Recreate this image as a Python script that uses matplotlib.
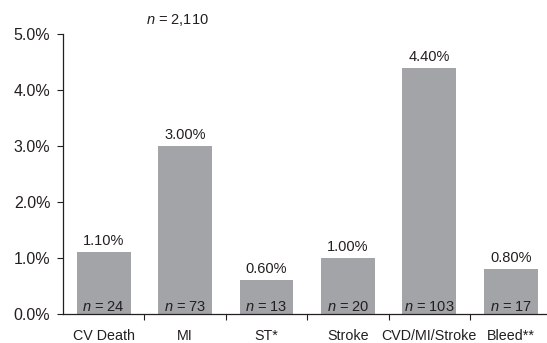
import matplotlib
matplotlib.use("Agg")
import matplotlib.pyplot as plt
from matplotlib.ticker import FixedLocator, FuncFormatter

categories = ["CV Death", "MI", "ST*", "Stroke", "CVD/MI/Stroke", "Bleed**"]
rates = [1.10, 3.00, 0.60, 1.00, 4.40, 0.80]
counts = [24, 73, 13, 20, 103, 17]
total_n = "2,110"

plt.rcParams["font.family"] = ["Liberation Sans", "DejaVu Sans"]
plt.rcParams["mathtext.fontset"] = "custom"
plt.rcParams["mathtext.it"] = "Liberation Sans:italic"
plt.rcParams["mathtext.rm"] = "Liberation Sans"

ink = "#231f20"
bar_color = "#a2a4a7"

fig = plt.figure(figsize=(5.47, 3.43), dpi=100)
ax = fig.add_axes([63 / 547, 29 / 343, (547 - 63) / 547, 280 / 343])

x = range(len(categories))
ax.bar(x, rates, width=0.66, color=bar_color, zorder=2)

ax.set_xlim(-0.5, -0.5 + (547 - 63) / 81.4)
ax.set_ylim(0, 5)

for i, (r, c) in enumerate(zip(rates, counts)):
    ax.annotate(f"{r:.2f}%", (i, r), xytext=(0, 5), textcoords="offset points",
                ha="center", va="baseline", fontsize=10.5, color=ink)
    ax.annotate(f"$n$ = {c}", (i, 0), xytext=(0, 2.5), textcoords="offset points",
                ha="center", va="baseline", fontsize=10.5, color=ink)

ax.text(0.91, 5.18, f"$n$ = {total_n}", ha="center", va="baseline",
        fontsize=10.5, color=ink, clip_on=False)

ax.set_yticks([0, 1, 2, 3, 4, 5])
ax.yaxis.set_major_formatter(FuncFormatter(lambda v, p: f"{v:.1f}%"))

# category labels sit between the tick marks at the category boundaries
ax.xaxis.set_major_locator(FixedLocator([0.5, 1.5, 2.5, 3.5, 4.5]))
ax.xaxis.set_major_formatter(FuncFormatter(lambda v, p: ""))
ax.xaxis.set_minor_locator(FixedLocator(list(x)))
ax.set_xticklabels(categories, minor=True)
ax.tick_params(axis="x", which="minor", length=0, pad=11, labelsize=10.3, labelcolor=ink)
ax.tick_params(axis="x", which="major", length=4, color=ink)
ax.tick_params(axis="y", length=4, pad=5, labelsize=11.5, labelcolor=ink, color=ink)

for side in ["top", "right"]:
    ax.spines[side].set_visible(False)
for side in ["left", "bottom"]:
    ax.spines[side].set_color(ink)
    ax.spines[side].set_linewidth(0.9)

fig.savefig("out.png", dpi=100)
plt.close()
